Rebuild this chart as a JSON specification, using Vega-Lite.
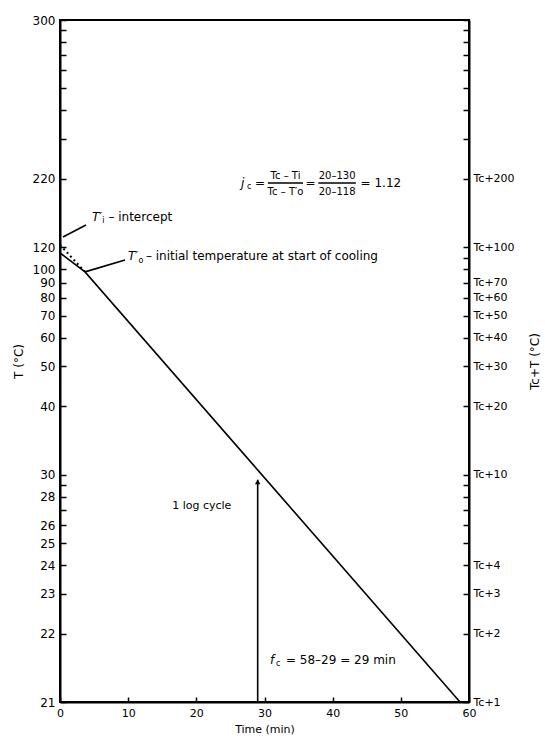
{
  "$schema": "https://vega.github.io/schema/vega-lite/v6.json",
  "width": 409,
  "height": 682,
  "autosize": {"type": "none"},
  "padding": {"left": 60, "top": 20, "right": 76, "bottom": 38},
  "background": "white",
  "view": {"stroke": "black", "strokeWidth": 2},
  "config": {"font": "DejaVu Sans"},
  "layer": [
    {
      "layer": [
        {
          "data": {"values": [{"t": 0, "d": 94.5}, {"t": 3.67, "d": 78}, {"t": 58.68, "d": 1}]},
          "mark": {"type": "line", "color": "black", "strokeWidth": 1.6},
          "encoding": {
            "x": {"field": "t", "type": "quantitative", "scale": {"domain": [0, 60], "nice": false, "zero": false},
              "axis": {"orient": "bottom", "values": [0, 10, 20, 30, 40, 50, 60], "grid": false, "tickSize": -5, "tickColor": "black", "tickWidth": 1.5,
                "domainColor": "black", "domainWidth": 2, "labelColor": "black", "labelFontSize": 11, "labelPadding": 10, "labelFlush": false,
                "title": "Time (min)", "titleFontSize": 11, "titleFontWeight": "normal", "titleColor": "black", "titlePadding": 5}},
            "y": {"field": "d", "type": "quantitative", "scale": {"type": "log", "domain": [1, 1000], "nice": false},
              "axis": {"orient": "left", "values": [1000, 900, 800, 700, 600, 500, 400, 300, 200, 100, 80, 70, 60, 50, 40, 30, 20, 10, 9, 8, 7, 6, 5, 4, 3, 2, 1],
                "labelExpr": "datum.value==1000?'300':indexof([200,100,80,70,60,50,40,30,20,10,8,6,5,4,3,2,1],datum.value)>=0?''+(datum.value+20):''",
                "labelOverlap": false, "labelFlush": false, "grid": false, "tickSize": -6, "tickColor": "black", "tickWidth": 1.5,
                "domainColor": "black", "domainWidth": 2, "labelColor": "black", "labelFontSize": 12, "labelPadding": 11,
                "title": "T (°C)", "titleFontSize": 12, "titleFontWeight": "normal", "titleColor": "black", "titlePadding": 7}}
          }
        },
        {
          "data": {"values": [{"t": 0, "d": 102.5}, {"t": 3.67, "d": 78}]},
          "mark": {"type": "line", "color": "black", "strokeWidth": 2, "strokeDash": [2, 3]},
          "encoding": {"x": {"field": "t", "type": "quantitative"}, "y": {"field": "d", "type": "quantitative"}}
        },
        {
          "data": {"values": [
            {"t1": 0.44, "d1": 111, "t2": 3.81, "d2": 125.4},
            {"t1": 3.67, "d1": 78, "t2": 9.54, "d2": 88},
            {"t1": 29, "d1": 1, "t2": 29, "d2": 9.5},
            {"t1": 30.5, "d1": 191.9, "t2": 35.65, "d2": 191.9},
            {"t1": 37.9, "d1": 191.9, "t2": 43.4, "d2": 191.9}
          ]},
          "mark": {"type": "rule", "color": "black", "strokeWidth": 1.6},
          "encoding": {
            "x": {"field": "t1", "type": "quantitative"}, "x2": {"field": "t2"},
            "y": {"field": "d1", "type": "quantitative"}, "y2": {"field": "d2"}
          }
        },
        {
          "data": {"values": [{"t": 29, "d": 9.3}]},
          "mark": {"type": "point", "shape": "triangle-up", "filled": true, "color": "black", "size": 30, "opacity": 1},
          "encoding": {"x": {"field": "t", "type": "quantitative"}, "y": {"field": "d", "type": "quantitative"}}
        },
        {
          "data": {"values": [
            {"t": 7.1, "d": 136, "label": "– intercept"},
            {"t": 12.6, "d": 91.6, "label": "– initial temperature at start of cooling"},
            {"t": 28.6, "d": 191.9, "label": "="},
            {"t": 36.0, "d": 191.9, "label": "="},
            {"t": 44.1, "d": 191.9, "label": "= 1.12"},
            {"t": 33.15, "d": 1.53, "label": "= 58–29 = 29 min"}
          ]},
          "mark": {"type": "text", "align": "left", "baseline": "middle", "fontSize": 12, "color": "black"},
          "encoding": {"x": {"field": "t", "type": "quantitative"}, "y": {"field": "d", "type": "quantitative"}, "text": {"field": "label"}}
        },
        {
          "data": {"values": [
            {"t": 33.08, "d": 207, "label": "Tc – Ti"},
            {"t": 33.08, "d": 176, "label": "Tc – T′o"},
            {"t": 40.65, "d": 207, "label": "20–130"},
            {"t": 40.65, "d": 176, "label": "20–118"}
          ]},
          "mark": {"type": "text", "align": "center", "baseline": "middle", "fontSize": 10, "color": "black"},
          "encoding": {"x": {"field": "t", "type": "quantitative"}, "y": {"field": "d", "type": "quantitative"}, "text": {"field": "label"}}
        },
        {
          "data": {"values": [
            {"t": 20.8, "d": 7.28, "label": "1 log cycle"}
          ]},
          "mark": {"type": "text", "align": "center", "baseline": "middle", "fontSize": 11, "color": "black"},
          "encoding": {"x": {"field": "t", "type": "quantitative"}, "y": {"field": "d", "type": "quantitative"}, "text": {"field": "label"}}
        },
        {
          "data": {"values": [
            {"t": 4.69, "d": 136, "label": "T′"},
            {"t": 9.97, "d": 91.6, "label": "T′"},
            {"t": 26.55, "d": 191.9, "label": "j"},
            {"t": 30.8, "d": 1.53, "label": "f"}
          ]},
          "mark": {"type": "text", "align": "left", "baseline": "middle", "fontSize": 12, "fontStyle": "italic", "color": "black"},
          "encoding": {"x": {"field": "t", "type": "quantitative"}, "y": {"field": "d", "type": "quantitative"}, "text": {"field": "label"}}
        },
        {
          "data": {"values": [
            {"t": 6.2, "d": 130, "label": "i"},
            {"t": 11.5, "d": 87.5, "label": "o"},
            {"t": 27.43, "d": 184.3, "label": "c"},
            {"t": 31.7, "d": 1.47, "label": "c"}
          ]},
          "mark": {"type": "text", "align": "left", "baseline": "middle", "fontSize": 8, "color": "black"},
          "encoding": {"x": {"field": "t", "type": "quantitative"}, "y": {"field": "d", "type": "quantitative"}, "text": {"field": "label"}}
        }
      ]
    },
    {
      "data": {"values": [{"d": 1}]},
      "mark": {"type": "point", "opacity": 0},
      "encoding": {
        "y": {"field": "d", "type": "quantitative", "scale": {"type": "log", "domain": [1, 1000], "nice": false},
          "axis": {"orient": "right", "values": [1000, 900, 800, 700, 600, 500, 400, 300, 200, 100, 90, 80, 70, 60, 50, 40, 30, 20, 10, 9, 8, 7, 6, 5, 4, 3, 2, 1],
            "labelExpr": "indexof([200,100,70,60,50,40,30,20,10,4,3,2,1],datum.value)>=0?'Tc+'+datum.value:''",
            "labelOverlap": false, "labelFlush": false, "grid": false, "tickSize": -6, "tickColor": "black", "tickWidth": 1.5,
            "domainColor": "black", "domainWidth": 2, "labelColor": "black", "labelFontSize": 11, "labelPadding": 10,
            "title": "Tc+T (°C)", "titleAngle": -90, "titleBaseline": "top", "titleFontSize": 12, "titleFontWeight": "normal", "titleColor": "black", "titlePadding": 15}}
      }
    }
  ],
  "resolve": {"scale": {"y": "independent"}}
}
